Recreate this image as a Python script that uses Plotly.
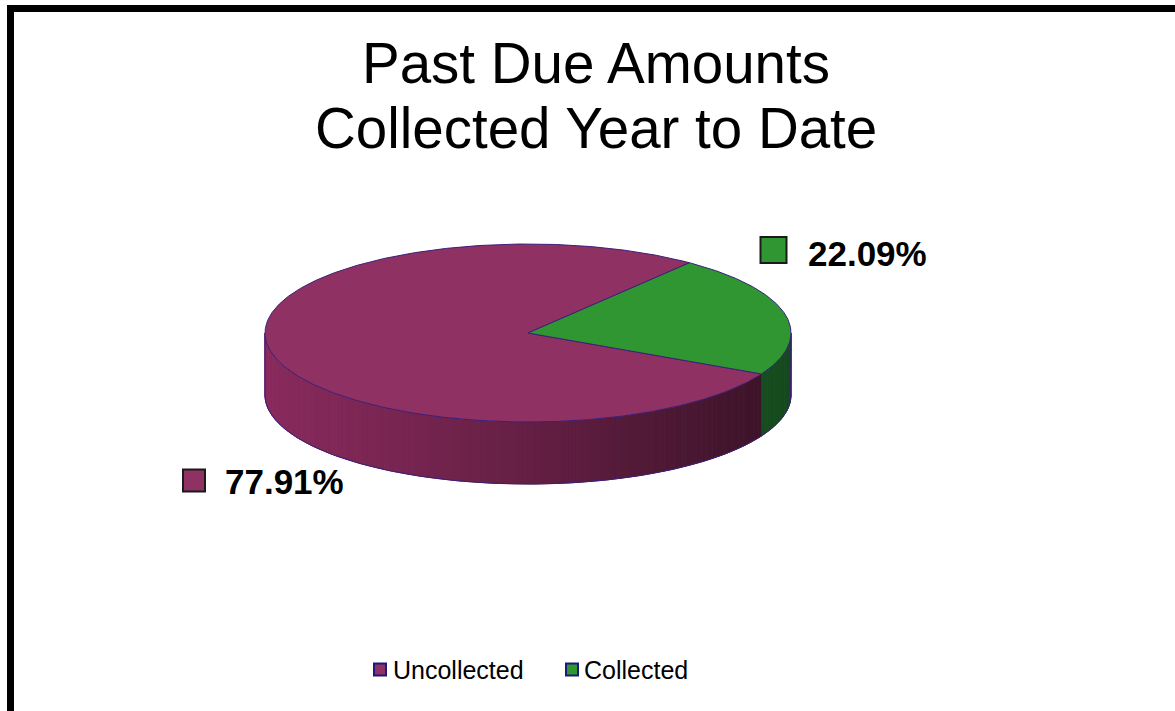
import numpy as np
import plotly.graph_objects as go

# ---- data -------------------------------------------------------------
categories = ["Uncollected", "Collected"]
shares = [77.91, 22.09]          # percent of past-due amounts
title_lines = ["Past Due Amounts", "Collected Year to Date"]

# ---- geometry & style -------------------------------------------------
W, H = 1175, 711
CX, CY = 528, 333                # centre of the pie's top face (px)
RX, RY = 263, 89                 # radii of the top ellipse
DEPTH = 62                       # thickness of the pie
START_DEG = 117.4                # first slice start, clockwise from 12 o'clock
FONT = "Liberation Sans, Arial, sans-serif"

top_colors = ["#8F3162", "#2F9632"]
side_left = [(136, 42, 92), (38, 122, 46)]
side_right = [(56, 18, 38), (22, 74, 30)]
edge_color = "#3B1F7A"
key_border = ["#1a1a1a", "#1a1a1a"]
legend_border = "#1B1A7A"

label_pos = [(223, 481, 194, 480.5, 22), (806, 253, 773.5, 250, 26)]
legend_pos = [(380, 391), (572, 582)]
LEGEND_Y = 669.5


def rim(theta_deg, drop=0.0):
    t = np.radians(theta_deg)
    return CX + RX * np.sin(t), CY - RY * np.cos(t) + drop


def lerp(c0, c1, t):
    return "rgb(%d,%d,%d)" % tuple(round(a + (b - a) * t) for a, b in zip(c0, c1))


fig = go.Figure()

# slice angle ranges
total = sum(shares)
bounds = []
a = START_DEG
for v in shares:
    sweep = 360.0 * v / total
    bounds.append((a, a + sweep))
    a += sweep

# ---- side walls (front half only), shaded left->right -----------------
for i, (a0, a1) in enumerate(bounds):
    for k in (-1, 0, 1, 2):
        lo, hi = max(a0, 90 + 360 * k), min(a1, 270 + 360 * k)
        if hi <= lo:
            continue
        n = max(2, int(np.ceil((hi - lo) / 1.5)))
        edges = np.linspace(lo, hi, n + 1)
        for t0, t1 in zip(edges[:-1], edges[1:]):
            arc = np.linspace(t0, t1, 4)
            xt, yt = rim(arc)
            xb, yb = rim(arc[::-1], DEPTH)
            xs = np.concatenate([xt, xb, xt[:1]])
            ys = np.concatenate([yt, yb, yt[:1]])
            frac = (xs.mean() - (CX - RX)) / (2 * RX)
            col = lerp(side_left[i], side_right[i], min(max(frac, 0), 1) ** 1.15)
            fig.add_trace(go.Scatter(
                x=xs, y=ys, mode="lines", fill="toself", fillcolor=col,
                line=dict(color=col, width=1), hoverinfo="skip", showlegend=False))

# outline of the side walls
arc = np.linspace(90, 270, 181)
xb, yb = rim(arc, DEPTH)
xr, yr = rim(90)
xl, yl = rim(270)
fig.add_trace(go.Scatter(
    x=np.concatenate([[xr], xb, [xl]]), y=np.concatenate([[yr], yb, [yl]]),
    mode="lines", line=dict(color=edge_color, width=1),
    hoverinfo="skip", showlegend=False))
for a0, _ in bounds:
    if 90 < (a0 % 360) < 270:
        x0, y0 = rim(a0)
        fig.add_trace(go.Scatter(
            x=[x0, x0], y=[y0, y0 + DEPTH], mode="lines",
            line=dict(color=edge_color, width=1), hoverinfo="skip", showlegend=False))

# ---- top face slices --------------------------------------------------
for i, (a0, a1) in enumerate(bounds):
    arc = np.linspace(a0, a1, max(3, int((a1 - a0) * 2)))
    xs, ys = rim(arc)
    fig.add_trace(go.Scatter(
        x=np.concatenate([[CX], xs, [CX]]), y=np.concatenate([[CY], ys, [CY]]),
        mode="lines", fill="toself", fillcolor=top_colors[i],
        line=dict(color=edge_color, width=1), name=categories[i],
        hovertemplate=f"{categories[i]}: {shares[i]:.2f}%<extra></extra>",
        showlegend=False))

# ---- data labels with legend keys ------------------------------------
annotations = []
for i, v in enumerate(shares):
    tx, ty, kx, ky, ks = label_pos[i]
    fig.add_trace(go.Scatter(
        x=[kx], y=[ky], mode="markers",
        marker=dict(symbol="square", size=ks, color=top_colors[i],
                    line=dict(color=key_border[i], width=2)),
        hoverinfo="skip", showlegend=False))
    annotations.append(dict(
        x=tx, y=ty, xref="x", yref="y", xanchor="left", yanchor="middle",
        text=f"<b>{v:.2f}%</b>", showarrow=False,
        font=dict(family=FONT, size=35, color="black")))

# ---- legend row --------------------------------------------------------
for i, name in enumerate(categories):
    mx, tx = legend_pos[i]
    fig.add_trace(go.Scatter(
        x=[mx], y=[LEGEND_Y], mode="markers",
        marker=dict(symbol="square", size=12, color=top_colors[i],
                    line=dict(color=legend_border, width=2)),
        hoverinfo="skip", showlegend=False))
    annotations.append(dict(
        x=tx, y=LEGEND_Y, xref="x", yref="y", xanchor="left", yanchor="middle",
        text=name, showarrow=False, font=dict(family=FONT, size=25, color="black")))

# ---- title -----------------------------------------------------------
for line, y in zip(title_lines, (63.5, 128.5)):
    annotations.append(dict(
        x=596, y=y, xref="x", yref="y", xanchor="center", yanchor="middle",
        text=line, showarrow=False, font=dict(family=FONT, size=56.5, color="black")))

fig.update_layout(
    width=W, height=H, autosize=False,
    margin=dict(l=0, r=0, t=0, b=0),
    paper_bgcolor="white", plot_bgcolor="white",
    xaxis=dict(range=[0, W], visible=False, fixedrange=True),
    yaxis=dict(range=[H, 0], visible=False, fixedrange=True),
    annotations=annotations,
    shapes=[dict(type="rect", xref="x", yref="y", x0=10.5, y0=8.5,
                 x1=W + 60, y1=H + 60, line=dict(color="black", width=7),
                 layer="above")],
)

fig.write_html("out.html")
